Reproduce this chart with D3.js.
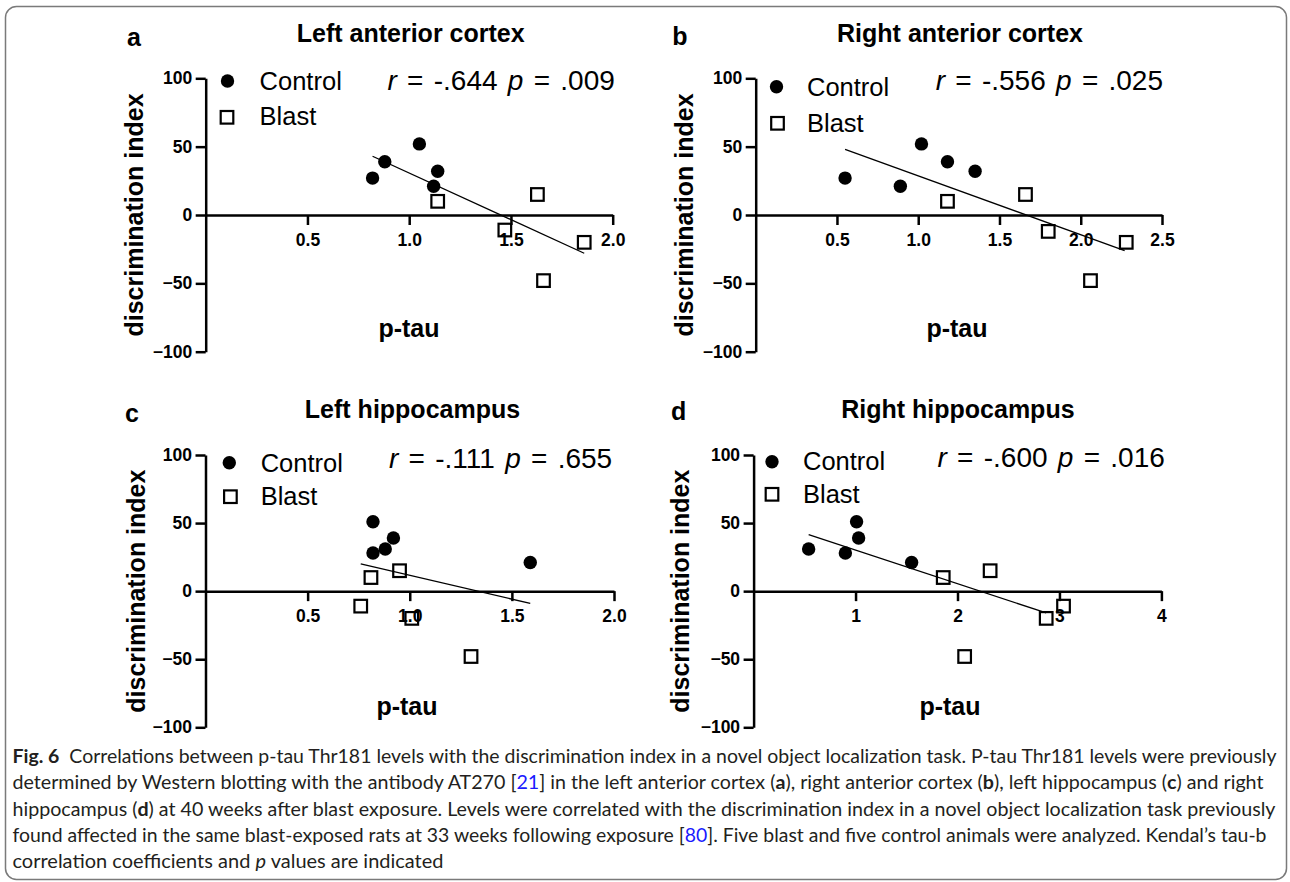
<!DOCTYPE html>
<html>
<head>
<meta charset="utf-8">
<script src="https://cdnjs.cloudflare.com/ajax/libs/d3/7.8.5/d3.min.js"></script>
<style>
  body { margin: 0; background: #fff; }
  svg text { font-family: "Liberation Sans", Arial, sans-serif; fill: #000; }
  .caption text { font-family: Lato, "Open Sans", sans-serif; fill: #231f20; }
</style>
</head>
<body>
<svg id="fig" width="1290" height="882"></svg>
<script>
// values: p-tau (x) vs discrimination index (y)
var ctrl_a_x = [0.82, 0.88, 1.05, 1.12, 1.14]
var ctrl_a_y = [27, 39, 52, 21, 32]
var blast_a_x = [1.14, 1.47, 1.63, 1.66, 1.86]
var blast_a_y = [10, -11, 15, -48, -20]
var fit_a = [[0.82, 43], [1.86, -28]]

var ctrl_b_x = [0.55, 0.89, 1.02, 1.18, 1.35]
var ctrl_b_y = [27, 21, 52, 39, 32]
var blast_b_x = [1.18, 1.66, 1.80, 2.06, 2.28]
var blast_b_y = [10, 15, -12, -48, -20]
var fit_b = [[0.55, 48], [2.27, -26]]

var ctrl_c_x = [0.82, 0.82, 0.88, 0.92, 1.59]
var ctrl_c_y = [51, 28, 31, 39, 21]
var blast_c_x = [0.81, 0.95, 0.76, 1.01, 1.30]
var blast_c_y = [10, 15, -11, -20, -48]
var fit_c = [[0.76, 20], [1.59, -9]]

var ctrl_d_x = [0.54, 0.90, 1.01, 1.03, 1.55]
var ctrl_d_y = [31, 28, 51, 39, 21]
var blast_d_x = [1.86, 2.32, 3.04, 2.87, 2.07]
var blast_d_y = [10, 15, -11, -20, -48]
var fit_d = [[0.54, 41.5], [2.87, -16]]

// axes
var y_ticks = [-100, -50, 0, 50, 100]
var x_ticks_a = [0.5, 1.0, 1.5, 2.0]
var x_ticks_b = [0.5, 1.0, 1.5, 2.0, 2.5]
var x_ticks_c = [0.5, 1.0, 1.5, 2.0]
var x_ticks_d = [1, 2, 3, 4]

var letters = ["a", "b", "c", "d"]
var titles = ["Left anterior cortex", "Right anterior cortex", "Left hippocampus", "Right hippocampus"]
var r_vals = ["-.644", "-.556", "-.111", "-.600"]
var p_vals = [".009", ".025", ".655", ".016"]
var groups = ["Control", "Blast"]

function pts(xs, ys) { return xs.map(function(v, i) { return {x: v, y: ys[i]}; }); }

var svg = d3.select("#fig")

// frame round the figure
svg.append("rect")
    .attr("x", 5.5).attr("y", 6.5)
    .attr("width", 1281).attr("height", 873)
    .attr("rx", 11)
    .attr("fill", "none")
    .attr("stroke", "#7a7a7a")
    .attr("stroke-width", 1.5)

// layout of each panel (pixels)
var panels = [
  {ctrl: pts(ctrl_a_x, ctrl_a_y), blast: pts(blast_a_x, blast_a_y), fit: fit_a, ticks: x_ticks_a, xmax: 2, fmt: d3.format(".1f"),
   x0: 205.7, x1: 612.7, ytop: 78.3, ybot: 351.7, letter: [134, 46], title: [410.7, 41.7], ylab: 134, xlab: [409, 336.5],
   circ: [227.5, 81], sq: [227, 117.3], legx: 259.6, legy: [90, 125], stat: [387.5, 90]},
  {ctrl: pts(ctrl_b_x, ctrl_b_y), blast: pts(blast_b_x, blast_b_y), fit: fit_b, ticks: x_ticks_b, xmax: 2.5, fmt: d3.format(".1f"),
   x0: 755.7, x1: 1162, ytop: 78.3, ybot: 351.7, letter: [680, 45], title: [960, 41.7], ylab: 684, xlab: [957, 336.5],
   circ: [776.5, 86.7], sq: [777.5, 123.3], legx: 807, legy: [96, 131.7], stat: [935.7, 90]},
  {ctrl: pts(ctrl_c_x, ctrl_c_y), blast: pts(blast_c_x, blast_c_y), fit: fit_c, ticks: x_ticks_c, xmax: 2, fmt: d3.format(".1f"),
   x0: 205.5, x1: 614, ytop: 455, ybot: 727.3, letter: [132, 421.7], title: [412.5, 418], ylab: 135.7, xlab: [407, 715],
   circ: [229.3, 462.7], sq: [230.4, 496.7], legx: 260.7, legy: [471.7, 505], stat: [389, 468.3]},
  {ctrl: pts(ctrl_d_x, ctrl_d_y), blast: pts(blast_d_x, blast_d_y), fit: fit_d, ticks: x_ticks_d, xmax: 4, fmt: d3.format("d"),
   x0: 753.6, x1: 1161.4, ytop: 455, ybot: 727.3, letter: [678.6, 420], title: [957.9, 418], ylab: 680, xlab: [950, 715],
   circ: [772, 461.7], sq: [772, 494.3], legx: 803, legy: [470, 502.7], stat: [937.5, 467.3]}
]

panels.forEach(function(p, i) {
  var g = svg.append("g")

  var x = d3.scaleLinear().domain([0, p.xmax]).range([p.x0, p.x1])
  var y = d3.scaleLinear().domain([-100, 100]).range([p.ybot, p.ytop])

  // add y axis
  var ya = g.append("g")
      .attr("transform", "translate(" + p.x0 + ",0)")
      .call(d3.axisLeft(y).tickValues(y_ticks).tickSize(10).tickPadding(3.5).tickSizeOuter(0))
  // add x axis
  var xa = g.append("g")
      .attr("transform", "translate(0," + y(0) + ")")
      .call(d3.axisBottom(x).tickValues(p.ticks).tickFormat(p.fmt).tickSize(10).tickPadding(8.5).tickSizeOuter(0))

  ;[ya, xa].forEach(function(a) {
    a.attr("font-family", null).attr("font-size", null)
    a.selectAll("path, line").attr("stroke", "#000").attr("stroke-width", 2.5)
    a.selectAll("text").attr("font-size", 17.5).attr("font-weight", "bold").attr("fill", "#000")
  })

  // regression line
  g.append("path")
      .datum(p.fit)
      .attr("d", d3.line().x(function(d) { return x(d[0]); }).y(function(d) { return y(d[1]); }))
      .attr("fill", "none")
      .attr("stroke", "#000")
      .attr("stroke-width", 1.3)

  // control animals
  g.selectAll(".ctrl")
      .data(p.ctrl)
      .enter()
      .append("circle")
      .attr("cx", function(d) { return x(d.x); })
      .attr("cy", function(d) { return y(d.y); })
      .attr("r", 6.7)
      .attr("fill", "#000")

  // blast animals
  g.selectAll(".blast")
      .data(p.blast)
      .enter()
      .append("rect")
      .attr("x", function(d) { return x(d.x) - 6.3; })
      .attr("y", function(d) { return y(d.y) - 6.3; })
      .attr("width", 12.6)
      .attr("height", 12.6)
      .attr("fill", "none")
      .attr("stroke", "#000")
      .attr("stroke-width", 2.2)

  // legend
  g.append("circle").attr("cx", p.circ[0]).attr("cy", p.circ[1]).attr("r", 6.7).attr("fill", "#000")
  g.append("rect").attr("x", p.sq[0] - 6.3).attr("y", p.sq[1] - 6.3).attr("width", 12.6).attr("height", 12.6)
      .attr("fill", "none").attr("stroke", "#000").attr("stroke-width", 2.2)
  g.selectAll(".leg")
      .data(groups)
      .enter()
      .append("text")
      .attr("x", p.legx)
      .attr("y", function(d, j) { return p.legy[j]; })
      .attr("font-size", 25.5)
      .text(function(d) { return d; })

  // r and p values
  var st = g.append("text")
      .attr("x", p.stat[0])
      .attr("y", p.stat[1])
      .attr("font-size", 28)
      .attr("word-spacing", 2.5)
  st.append("tspan").attr("font-style", "italic").text("r")
  st.append("tspan").text(" = " + r_vals[i] + " ")
  st.append("tspan").attr("font-style", "italic").text("p")
  st.append("tspan").text(" = " + p_vals[i])

  // panel letter and title
  g.append("text")
      .attr("x", p.letter[0]).attr("y", p.letter[1])
      .attr("text-anchor", "middle")
      .attr("font-size", 25).attr("font-weight", "bold")
      .text(letters[i])
  g.append("text")
      .attr("x", p.title[0]).attr("y", p.title[1])
      .attr("text-anchor", "middle")
      .attr("font-size", 25).attr("font-weight", "bold")
      .text(titles[i])

  // y axis label
  g.append("text")
      .attr("transform", "translate(" + p.ylab + "," + (p.ytop + p.ybot) / 2 + ") rotate(-90)")
      .attr("text-anchor", "middle")
      .attr("dy", "0.36em")
      .attr("font-size", 25).attr("font-weight", "bold")
      .text("discrimination index")

  // x axis label
  g.append("text")
      .attr("x", p.xlab[0]).attr("y", p.xlab[1])
      .attr("text-anchor", "middle")
      .attr("font-size", 25).attr("font-weight", "bold")
      .text("p-tau")
})

// caption
var caption = [
  [["Fig. 6", "b"], ["  Correlations between p-tau Thr181 levels with the discrimination index in a novel object localization task. P-tau Thr181 levels were previously", ""]],
  [["determined by Western blotting with the antibody AT270 [", ""], ["21", "link"], ["] in the left anterior cortex (", ""], ["a", "b"], ["), right anterior cortex (", ""], ["b", "b"], ["), left hippocampus (", ""], ["c", "b"], [") and right", ""]],
  [["hippocampus (", ""], ["d", "b"], [") at 40 weeks after blast exposure. Levels were correlated with the discrimination index in a novel object localization task previously", ""]],
  [["found affected in the same blast-exposed rats at 33 weeks following exposure [", ""], ["80", "link"], ["]. Five blast and five control animals were analyzed. Kendal\u2019s tau-b", ""]],
  [["correlation coefficients and ", ""], ["p", "i"], [" values are indicated", ""]]
]
var caption_widths = [1264, 1251, 1263, 1254, 431]

var cap = svg.append("g").attr("class", "caption")
caption.forEach(function(line, k) {
  var t = cap.append("text")
      .attr("x", 12.5)
      .attr("y", 763 + k * 26.3)
      .attr("font-size", 18.5)
      .attr("xml:space", "preserve")
      .attr("textLength", caption_widths[k])
      .attr("lengthAdjust", "spacingAndGlyphs")
  line.forEach(function(run) {
    var s = t.append("tspan").text(run[0])
    if (run[1] == "b") s.attr("font-weight", "bold")
    if (run[1] == "i") s.attr("font-style", "italic")
    if (run[1] == "link") s.attr("fill", "#1a1aff")
  })
})
</script>
</body>
</html>
